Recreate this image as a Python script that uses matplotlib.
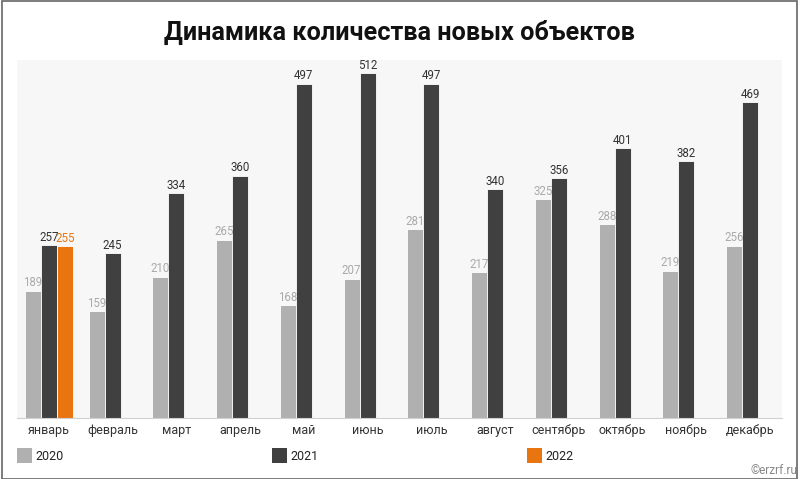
import matplotlib
matplotlib.use('Agg')
import matplotlib.pyplot as plt
from matplotlib.patches import Rectangle
import numpy as np

plt.rcParams['font.family'] = ['Roboto', 'DejaVu Sans']

months = ['январь', 'февраль', 'март', 'апрель', 'май', 'июнь', 'июль',
          'август', 'сентябрь', 'октябрь', 'ноябрь', 'декабрь']
v2020 = [189, 159, 210, 265, 168, 207, 281, 217, 325, 288, 219, 256]
v2021 = [257, 245, 334, 360, 497, 512, 497, 340, 356, 401, 382, 469]
v2022 = [255]

c2020 = '#b0b0b0'
c2021 = '#404040'
c2022 = '#e8750f'

W, H = 800, 479
fig = plt.figure(figsize=(8, 4.79), dpi=100)
fig.patch.set_facecolor('white')

ax = fig.add_axes([17 / W, (H - 418) / H, (782 - 17) / W, (418 - 60) / H])
ax.set_facecolor('#f7f7f7')

x = np.arange(len(months))
bw = 0.25
b1 = ax.bar(x - bw, v2020, bw, color=c2020, edgecolor='white', linewidth=0.6)
b2 = ax.bar(x, v2021, bw, color=c2021, edgecolor='white', linewidth=0.6)
b3 = ax.bar(x[:len(v2022)] + bw, v2022, bw, color=c2022, edgecolor='white', linewidth=0.6)

for bars, vals, col in [(b1, v2020, '#aaaaaa'), (b2, v2021, '#333333'), (b3, v2022, c2022)]:
    for b, v in zip(bars, vals):
        ax.text(b.get_x() + b.get_width() / 2, v + 2, str(v), ha='center', va='bottom',
                fontsize=8.3, color=col)

ax.set_xlim(-0.5, len(months) - 0.5)
ax.set_ylim(0, 532)
ax.set_yticks([])
ax.set_xticks(x)
ax.set_xticklabels(months, fontsize=9, color='#333333')
ax.tick_params(axis='x', length=0, pad=4)
for s in ['top', 'left', 'right']:
    ax.spines[s].set_visible(False)
ax.spines['bottom'].set_color('#d0d0d0')
ax.spines['bottom'].set_linewidth(0.8)

fig.text(399 / W, 1 - 32 / H, 'Динамика количества новых объектов', ha='center', va='center',
         fontsize=18.2, fontweight='bold', color='#111111')

# legend
for xs, lab, col in [(17, '2020', c2020), (272, '2021', c2021), (527, '2022', c2022)]:
    fig.patches.append(Rectangle((xs / W, 1 - 463 / H), 15 / W, 15 / H, transform=fig.transFigure,
                                 facecolor=col, edgecolor='none'))
    fig.text((xs + 18) / W, 1 - 456 / H, lab, ha='left', va='center', fontsize=9, color='#222222')

fig.text(797 / W, 1 - 471 / H, '©erzrf.ru', ha='right', va='center', fontsize=8.5, color='#888888')

# outer frame
fig.patches.append(Rectangle((1.5 / W, 0.5 / H), 795 / W, 477.5 / H, transform=fig.transFigure,
                             facecolor='none', edgecolor='#666666', linewidth=1.2))

fig.savefig('out.png', dpi=100, facecolor='white')
